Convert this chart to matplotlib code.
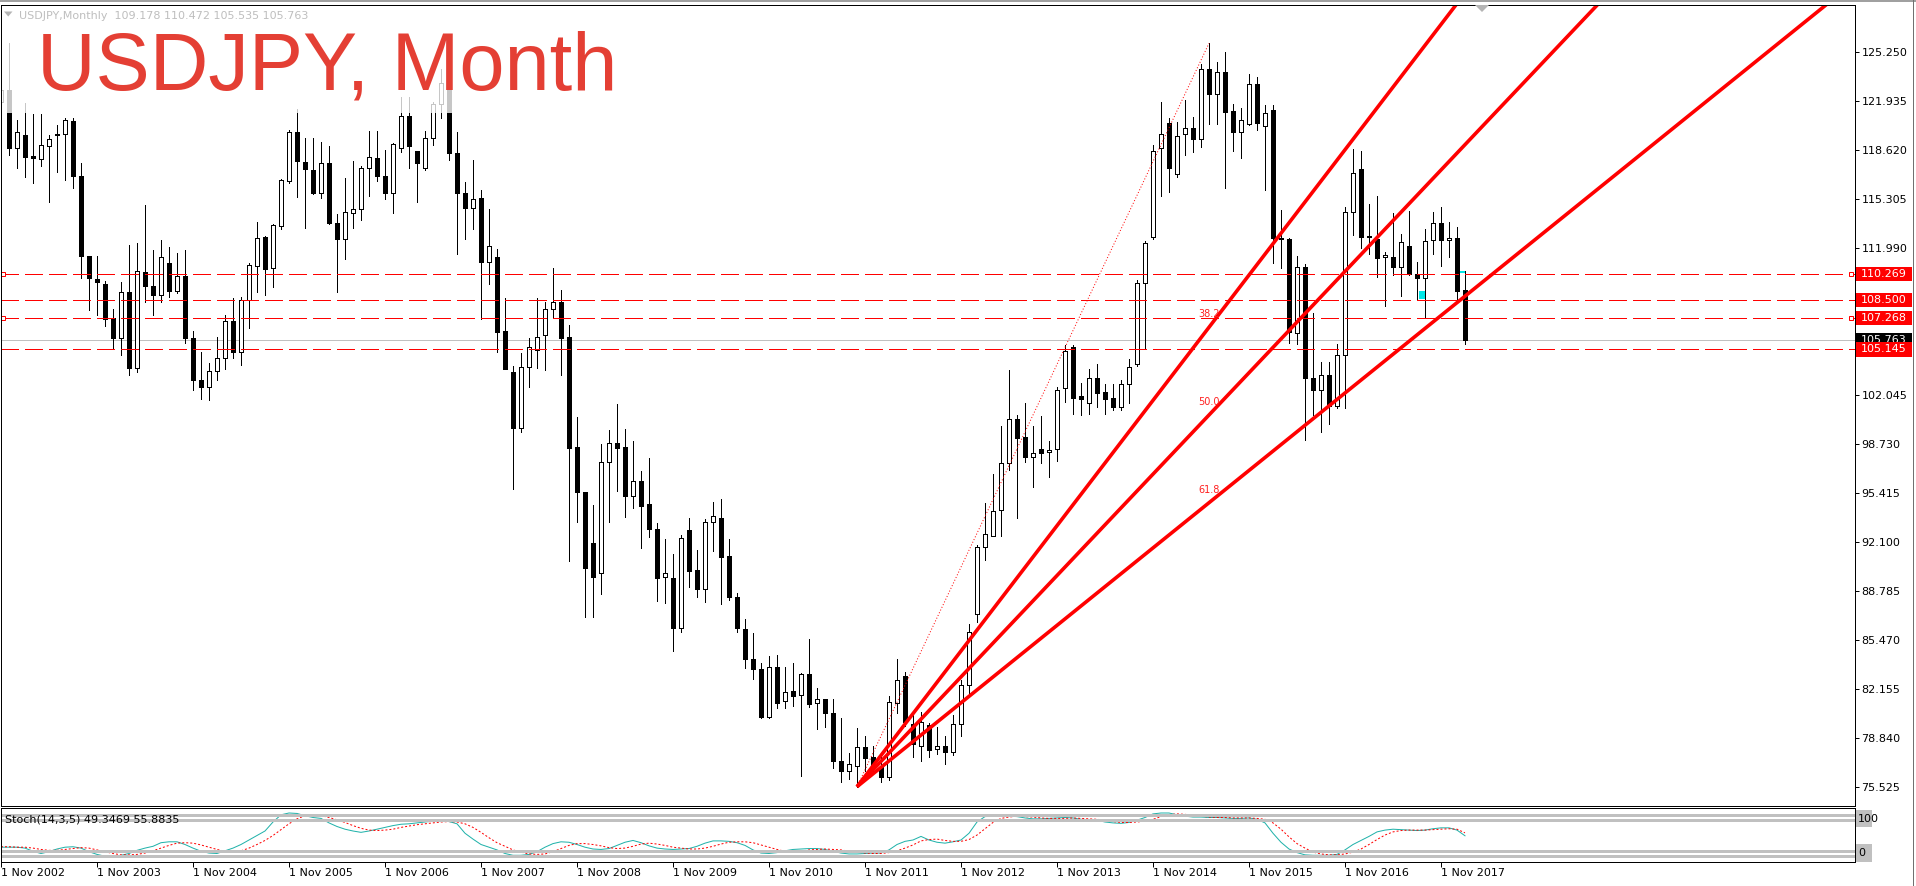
import numpy as np
import matplotlib
matplotlib.use("Agg")
import matplotlib.pyplot as plt
from matplotlib.patches import Rectangle, Polygon
from matplotlib.lines import Line2D
from matplotlib import transforms

plt.rcParams['font.family'] = ['DejaVu Sans']
plt.rcParams['lines.scale_dashes'] = False

# ---------------- data (monthly USDJPY, Nov 2002 .. Feb 2018) ----------------
opens = [
    121.9, 122.7, 118.8, 119.65, 118.2, 118.0, 118.9, 119.65, 119.75, 120.6,
    116.9, 111.5, 109.9, 109.6, 107.3, 105.9, 109.05, 103.9, 110.4, 109.45,
    108.8, 111.0, 109.1, 110.1, 105.9, 103.1, 102.6, 103.7, 104.6, 107.1,
    105.0, 108.5, 110.81, 112.73, 110.64, 113.5, 116.54, 119.84, 117.81, 117.29,
    115.75, 117.74, 113.68, 112.6, 114.36, 114.63, 117.4, 118.08, 116.9, 115.75,
    118.75, 120.94, 118.57, 117.44, 119.43, 121.73, 123.2, 118.42, 115.75, 114.74,
    115.37, 111.04, 111.38, 106.4, 103.64, 99.85, 103.94, 105.11, 106.12, 107.86,
    108.34, 105.97, 98.52, 95.48, 92.03, 90.0, 97.55, 98.84, 98.57, 95.25,
    96.26, 94.67, 92.98, 89.73, 89.66, 86.28, 92.93, 90.22, 88.92, 93.45,
    93.72, 91.17, 88.38, 86.23, 84.2, 83.52, 80.3, 83.64, 81.36, 82.04,
    81.77, 83.17, 81.2, 81.47, 80.53, 77.3, 76.64, 76.98, 78.23, 77.55,
    76.9, 76.24, 81.25, 83.05, 79.78, 78.34, 79.74, 78.09, 78.31, 77.93,
    79.78, 82.42, 87.25, 91.76, 92.54, 94.28, 97.44, 100.41, 99.2, 97.85,
    98.39, 98.19, 98.39, 102.52, 105.29, 101.99, 101.54, 103.19, 102.24, 101.84,
    101.27, 102.78, 104.14, 109.62, 112.78, 118.75, 120.45, 117.0, 119.7, 120.1,
    119.36, 124.1, 122.4, 123.9, 121.3, 119.88, 120.38, 123.1, 120.26, 121.35,
    112.7, 112.6, 106.24, 110.75, 103.2, 102.4, 103.4, 101.3, 104.77, 114.42,
    117.35, 112.82, 112.6, 111.38, 111.4, 110.74, 112.15, 110.25, 109.96, 112.55,
    113.68, 112.55, 112.66, 109.178,
]
highs = [
    123.2, 125.9, 120.65, 121.8, 121.1, 121.1, 119.65, 120.3, 120.8, 120.8,
    117.75, 111.5, 111.5, 109.8, 107.9, 109.7, 112.2, 112.35, 114.9, 111.9,
    112.55, 112.1, 111.65, 111.9, 106.4, 105.0, 104.2, 106.0, 107.5, 108.6,
    108.7, 111.0, 113.75, 112.8, 113.6, 116.7, 119.99, 121.4, 119.43, 119.43,
    119.2, 118.93, 114.31, 116.77, 117.9, 117.56, 119.92, 119.92, 118.64, 119.09,
    122.25, 122.25, 118.6, 119.9, 121.9, 124.15, 123.7, 119.84, 116.45, 117.96,
    115.93, 114.65, 111.92, 108.6, 104.0, 104.89, 105.9, 108.6, 108.38, 110.64,
    109.17, 106.8, 100.55, 95.52, 94.62, 98.75, 99.69, 101.45, 99.76, 98.97,
    96.94, 97.77, 93.38, 92.3, 91.3, 92.6, 93.72, 91.6, 93.65, 94.8,
    95.01, 92.3, 88.7, 86.9, 85.98, 83.9, 84.4, 84.5, 83.68, 83.93,
    83.25, 85.56, 82.22, 81.5, 81.47, 80.19, 77.82, 79.51, 78.96, 78.3,
    77.8, 81.7, 84.2, 83.3, 80.5, 80.6, 79.9, 79.6, 79.0, 80.4,
    82.8, 86.6, 91.9, 94.74, 96.7, 99.98, 103.75, 100.71, 101.5, 99.98,
    100.64, 98.97, 102.6, 105.45, 105.45, 102.9, 103.8, 104.16, 102.8, 102.8,
    103.1, 104.5, 109.84, 112.5, 118.98, 121.9, 120.78, 120.55, 122.0, 120.84,
    124.46, 125.86, 124.6, 125.3, 121.75, 121.5, 123.75, 123.6, 121.7, 121.68,
    114.58, 112.7, 111.45, 110.9, 107.6, 104.3, 104.3, 105.5, 114.8, 118.69,
    118.6, 115.0, 115.5, 111.76, 114.36, 112.94, 114.5, 111.04, 113.29, 114.42,
    114.8, 113.75, 113.45, 110.472,
]
lows = [
    119.1, 118.3, 117.4, 116.8, 116.4, 117.55, 115.1, 117.15, 116.6, 116.1,
    110.0, 107.8, 107.5, 106.75, 105.2, 104.8, 103.4, 103.6, 108.35, 107.5,
    108.35, 108.7, 108.95, 105.6, 102.4, 101.8, 101.7, 103.1, 103.8, 104.6,
    104.1, 106.6, 109.05, 108.8, 109.4, 113.3, 116.39, 115.48, 113.38, 115.64,
    115.41, 113.63, 109.01, 111.29, 113.38, 113.9, 115.55, 116.54, 115.32, 114.4,
    118.5, 117.44, 115.14, 117.3, 119.0, 120.78, 117.96, 111.58, 112.6, 113.27,
    107.19, 109.55, 104.95, 103.8, 95.7, 99.58, 102.58, 103.87, 103.75, 107.25,
    103.42, 90.85, 93.49, 87.06, 87.06, 88.58, 93.49, 95.59, 93.83, 94.44,
    91.73, 92.47, 88.14, 87.97, 84.76, 86.0, 89.09, 88.4, 88.07, 91.53,
    87.9, 88.2, 86.0, 83.6, 82.83, 80.2, 80.23, 80.9, 80.9, 81.04,
    76.3, 80.97, 79.47, 79.62, 76.85, 75.9, 76.06, 75.56, 76.6, 76.6,
    75.9, 76.0, 80.53, 79.7, 77.6, 77.3, 77.6, 77.8, 77.1, 77.7,
    79.0, 81.7, 86.73, 90.9, 92.54, 92.54, 97.0, 93.76, 97.55, 95.82,
    97.48, 96.54, 97.6, 101.61, 100.8, 100.71, 100.8, 101.27, 100.8, 101.07,
    101.07, 101.5, 104.0, 105.15, 112.6, 115.55, 115.82, 116.83, 118.3, 118.53,
    118.87, 120.4, 120.4, 116.1, 118.6, 118.08, 120.3, 120.0, 115.93, 110.97,
    110.68, 105.55, 105.5, 99.0, 100.7, 99.55, 100.1, 101.2, 101.2, 112.9,
    112.03, 111.6, 110.07, 108.1, 110.18, 108.78, 110.2, 108.56, 107.27, 111.6,
    110.82, 111.42, 108.3, 105.535,
]
closes = [
    122.7, 118.8, 119.85, 118.15, 118.1, 118.95, 119.4, 119.75, 120.65, 116.9,
    111.45, 110.0, 109.7, 107.2, 105.9, 109.05, 103.9, 110.45, 109.45, 108.8,
    111.4, 109.1, 110.1, 105.9, 103.1, 102.6, 103.7, 104.6, 107.1, 105.0,
    108.5, 110.86, 112.66, 110.59, 113.57, 116.61, 119.84, 117.92, 117.35, 115.75,
    117.74, 113.68, 112.6, 114.42, 114.65, 117.4, 118.15, 116.9, 115.75, 119.02,
    120.94, 118.91, 117.74, 119.43, 121.73, 123.15, 118.42, 115.75, 114.74, 115.3,
    111.08, 112.14, 106.35, 103.82, 99.85, 103.94, 105.33, 106.01, 107.86, 108.34,
    105.94, 98.46, 95.52, 90.34, 89.77, 97.55, 98.84, 98.5, 95.25, 96.26,
    94.57, 92.98, 89.66, 90.04, 86.28, 92.37, 90.18, 88.92, 93.45, 93.9,
    91.12, 88.38, 86.32, 84.18, 83.5, 80.3, 83.64, 81.2, 81.99, 81.72,
    83.17, 81.14, 81.47, 80.53, 77.32, 76.64, 77.08, 78.23, 77.53, 76.9,
    76.24, 81.27, 82.78, 79.95, 78.43, 79.92, 78.05, 78.31, 77.93, 79.78,
    82.44, 86.04, 91.76, 92.66, 94.22, 97.44, 100.41, 99.13, 97.85, 98.12,
    98.16, 98.32, 102.4, 105.04, 101.88, 101.77, 103.19, 102.22, 101.77, 101.27,
    102.78, 103.98, 109.62, 112.34, 118.57, 119.7, 117.44, 119.59, 120.1, 119.36,
    124.1, 122.4, 123.9, 121.23, 119.88, 120.67, 123.1, 120.45, 121.12, 112.66,
    112.6, 106.3, 110.75, 103.2, 102.4, 103.4, 101.3, 104.77, 114.42, 117.06,
    112.77, 112.73, 111.35, 111.53, 110.74, 112.4, 110.23, 109.96, 112.48, 113.68,
    112.55, 112.71, 109.12, 105.763,
]

# Stochastic(14,3,5)
stoch_k = [
    24, 24, 24, 22, 15, 10, 14, 20, 24, 25,
    22, 14, 8, 4, 2, 6, 10, 17, 22, 26,
    34, 36, 36, 30, 22, 15, 11, 10, 16, 22,
    30, 40, 50, 60, 80, 96, 100, 99, 94, 90,
    88, 78, 70, 64, 60, 57, 60, 64, 68, 72,
    75, 76, 78, 80, 82, 83, 81, 76, 55, 42,
    30, 24, 18, 10, 6, 6, 8, 14, 24, 32,
    36, 35, 30, 24, 20, 19, 21, 28, 35, 39,
    34, 27, 22, 20, 19, 20, 21, 26, 33, 38,
    38, 37, 34, 28, 18, 11, 10, 12, 16, 19,
    20, 21, 21, 19, 15, 11, 9, 9, 10, 11,
    11, 18, 30, 37, 40, 48, 40, 35, 33, 36,
    40, 55, 80, 92, 93, 93, 93, 92, 89, 87,
    87, 88, 89, 90, 89, 86, 85, 84, 80, 78,
    77, 79, 84, 90, 98, 100, 100, 96, 93, 91,
    91, 90, 90, 89, 88, 88, 89, 86, 78, 55,
    35, 20, 12, 7, 6, 6, 6, 8, 18, 30,
    39, 48, 58, 62, 64, 63, 62, 61, 62, 65,
    67, 67, 62, 49.3469,
]
stoch_d = [
    25, 25, 24, 24, 22, 19, 17, 17, 19, 21,
    23, 22, 18, 14, 10, 7, 7, 8, 11, 16,
    22, 28, 33, 34, 33, 29, 24, 19, 15, 14,
    16, 22, 30, 39, 50, 63, 76, 87, 94, 96,
    94, 90, 85, 79, 72, 66, 62, 61, 62, 64,
    68, 71, 74, 76, 78, 80, 81, 80, 76, 68,
    57, 45, 34, 26, 18, 13, 9, 8, 9, 14,
    21, 28, 32, 32, 30, 27, 23, 21, 22, 26,
    31, 33, 31, 28, 24, 22, 20, 20, 22, 26,
    31, 35, 36, 36, 34, 29, 24, 19, 15, 14,
    15, 18, 19, 20, 19, 18, 15, 13, 11, 10,
    10, 12, 16, 22, 29, 38, 41, 42, 39, 37,
    37, 41, 51, 65, 79, 88, 91, 93, 92, 91,
    89, 88, 88, 88, 89, 88, 87, 86, 84, 81,
    79, 79, 80, 82, 86, 92, 96, 98, 97, 95,
    93, 91, 90, 90, 89, 89, 89, 88, 86, 78,
    64, 47, 32, 22, 13, 9, 7, 7, 9, 13,
    20, 30, 41, 51, 58, 61, 62, 62, 62, 63,
    64, 65, 64, 55.8835,
]
stoch_levels = [96.2, 84.4, 14.9, 3.8]

x_tick_bars = [0, 12, 24, 36, 48, 60, 72, 84, 96, 108, 120, 132, 144, 156, 168, 180]
x_tick_labels = ["1 Nov 2002", "1 Nov 2003", "1 Nov 2004", "1 Nov 2005", "1 Nov 2006",
                 "1 Nov 2007", "1 Nov 2008", "1 Nov 2009", "1 Nov 2010", "1 Nov 2011",
                 "1 Nov 2012", "1 Nov 2013", "1 Nov 2014", "1 Nov 2015", "1 Nov 2016",
                 "1 Nov 2017"]
price_ticks = [125.250, 121.935, 118.620, 115.305, 111.990, 108.675, 105.360, 102.045,
               98.730, 95.415, 92.100, 88.785, 85.470, 82.155, 78.840, 75.525]

h_levels = [110.269, 108.500, 107.268, 105.145]
h_levels_marked = [110.269, 107.268]
bid_price = 105.763

fan_start = (107, 75.56)   # Oct 2011 low
fan_end = (151, 125.86)    # Jun 2015 high
fan_levels = [38.2, 50.0, 61.8]

cyan_marks = [(177.2, 177.95, 108.55, 109.1), (182.4, 183.0, 110.33, 110.45)]

# ---------------- layout ----------------
W, H, DPI = 1916, 886, 100
PT = 72.0 / DPI
fig = plt.figure(figsize=(W / DPI, H / DPI), dpi=DPI, facecolor='white')

def fx(px):
    return px / W

def fy(py):
    return 1 - py / H

L, R, T, B = 0.5, 1854.5, 5.0, 806.0
ST_T, ST_B = 808.3, 861.7

ax = fig.add_axes([fx(L), fy(B), (R - L) / W, (B - T) / H])
ax2 = fig.add_axes([fx(L), fy(ST_B), (R - L) / W, (ST_B - ST_T) / H], sharex=ax)

n = min(len(opens), len(highs), len(lows), len(closes))
idx = np.arange(n)
o = np.array(opens[:n]); hh = np.array(highs[:n]); ll = np.array(lows[:n]); c = np.array(closes[:n])

ax.set_xlim((L - 1) / 8.0, (R - 1) / 8.0)
ax.set_ylim(74.256, 128.45)

# candles
ax.vlines(idx, ll, hh, color='black', lw=PT, zorder=2, antialiased=False)
up = c >= o
ax.bar(idx[up], (c - o)[up], bottom=o[up], width=0.5, color='white', edgecolor='black',
       linewidth=PT, zorder=3, antialiased=False)
ax.bar(idx[~up], (o - c)[~up], bottom=c[~up], width=0.5, color='black', edgecolor='black',
       linewidth=PT, zorder=3, antialiased=False)

for (xa, xb, pa, pb) in cyan_marks:
    ax.add_patch(Rectangle((xa, pa), xb - xa, pb - pa, fc='#00E8E8', ec='none', zorder=3.5))

# bid line
ax.axhline(bid_price, color='#C0C0C0', lw=PT, zorder=1)

# horizontal dashed levels
for lv in h_levels:
    ax.axhline(lv, color='red', lw=PT, dashes=(18 * PT, 6 * PT), zorder=5, antialiased=False)
xmin, xmax = ax.get_xlim()
for lv in h_levels_marked:
    ax.plot([xmin + 0.3, xmax - 0.45], [lv, lv], 's', ms=4 * PT, mfc='white', mec='red',
            mew=PT, zorder=6, clip_on=False)

# fibonacci fan
x1, p1 = fan_start
x2, p2 = fan_end
x_far = 250
for lv in fan_levels:
    pl = p2 - lv / 100.0 * (p2 - p1)
    slope = (pl - p1) / (x2 - x1)
    ax.plot([x1, x_far], [p1, p1 + slope * (x_far - x1)], color='red', lw=3.6 * PT,
            solid_capstyle='butt', zorder=7)
    ax.annotate(f"{lv:.1f}", xy=(x2, pl), xytext=(0, 13 * PT), textcoords='offset points',
                ha='center', va='center', fontsize=7, color='#FF2020', zorder=8)
ax.plot([x1, x2], [p1, p2], color='red', lw=PT, ls=(0, (1 * PT, 2 * PT)), zorder=7)

# faded area under title (keeps the top frame line visible)
ax.add_patch(Rectangle((fx(1.5), fy(113)), fx(612) - fx(1.5), fy(6.5) - fy(113),
                       transform=fig.transFigure, fc='white', ec='none', alpha=0.78, zorder=4))

# axes styling
for a in (ax, ax2):
    for s in a.spines.values():
        s.set_color('black')
        s.set_linewidth(PT)
        s.set_zorder(9)
ax.yaxis.tick_right()
ax.set_yticks(price_ticks)
ax.set_yticklabels([f"{t:.3f}" for t in price_ticks])
ax.tick_params(axis='y', direction='out', length=4 * PT, width=PT, pad=3 * PT,
               labelsize=8, labelcolor='black')
ax.tick_params(axis='x', bottom=False, labelbottom=False)

# price boxes on the right axis
tr = transforms.blended_transform_factory(fig.transFigure, ax.transData)
ppx = (B - T) / (128.45 - 74.256)
bh = 14.3 / ppx
boxes = [(bid_price, 'black', 10)] + [(lv, 'red', 12) for lv in h_levels]
for lv, col, z in boxes:
    ax.add_patch(Rectangle((fx(1856), lv - bh / 2), fx(56), bh, transform=tr, fc=col,
                           ec='none', clip_on=False, zorder=z))
    ax.text(fx(1861), lv, f"{lv:.3f}", transform=tr, color='white', fontsize=8,
            va='center', ha='left', clip_on=False, zorder=z + 1)

# stochastic panel
ax2.set_ylim(-8.22, 110.44)
ax2.plot(idx, stoch_k[:n], color='#20B2AA', lw=PT, zorder=2)
ax2.plot(idx, stoch_d[:n], color='red', lw=PT, ls=(0, (2 * PT, 2 * PT)), zorder=2)
for lv in stoch_levels:
    ax2.axhline(lv, color='#C0C0C0', lw=3 * PT, zorder=3)
ax2.set_yticks([])
ax2.set_xticks(x_tick_bars)
ax2.set_xticklabels(x_tick_labels, ha='left')
ax2.tick_params(axis='x', direction='out', length=5 * PT, width=PT, pad=1.5 * PT, labelsize=8)

fig.text(fx(5), fy(820), f"Stoch(14,3,5) {stoch_k[-1]:.4f} {stoch_d[-1]:.4f}",
         fontsize=8, color='black', va='center', ha='left', zorder=20)
for (ytop, ybot, txt) in [(810, 827, "100"), (844, 862, "0")]:
    fig.patches.append(Rectangle((fx(1856), fy(ybot)), fx(16), (ybot - ytop) / H,
                                 transform=fig.transFigure, fc='#C0C0C0', ec='none', zorder=5))
    fig.text(fx(1858), fy((ytop + ybot) / 2), txt, fontsize=8, color='black',
             va='center', ha='left', zorder=6)

# title and header text
fig.text(fx(37), fy(89), "USDJPY, Month", fontsize=58.5, color='#E43F34',
         family=['Liberation Sans', 'DejaVu Sans'], va='baseline', ha='left', zorder=20)
fig.text(fx(19), fy(19),
         f"USDJPY,Monthly  {opens[-1]:.3f} {highs[-1]:.3f} {lows[-1]:.3f} {closes[-1]:.3f}",
         fontsize=8, color='#BEBEBE', va='baseline', ha='left', zorder=20)
fig.patches.append(Polygon([[fx(4), fy(11.5)], [fx(12.5), fy(11.5)], [fx(8.25), fy(16.5)]],
                           closed=True, transform=fig.transFigure, fc='#B4B4B4', ec='none', zorder=6))
fig.patches.append(Polygon([[fx(1475), fy(5)], [fx(1489), fy(5)], [fx(1482), fy(12)]],
                           closed=True, transform=fig.transFigure, fc='#B4B4B4', ec='none', zorder=6))

# window frame lines
fig.lines.append(Line2D([0, 1], [fy(1), fy(1)], transform=fig.transFigure,
                        color='#A0A0A0', lw=2 * PT))
fig.lines.append(Line2D([fx(1912.5), fx(1912.5)], [0, 1], transform=fig.transFigure,
                        color='#707070', lw=PT))

fig.savefig('out.png', dpi=DPI, facecolor='white')
